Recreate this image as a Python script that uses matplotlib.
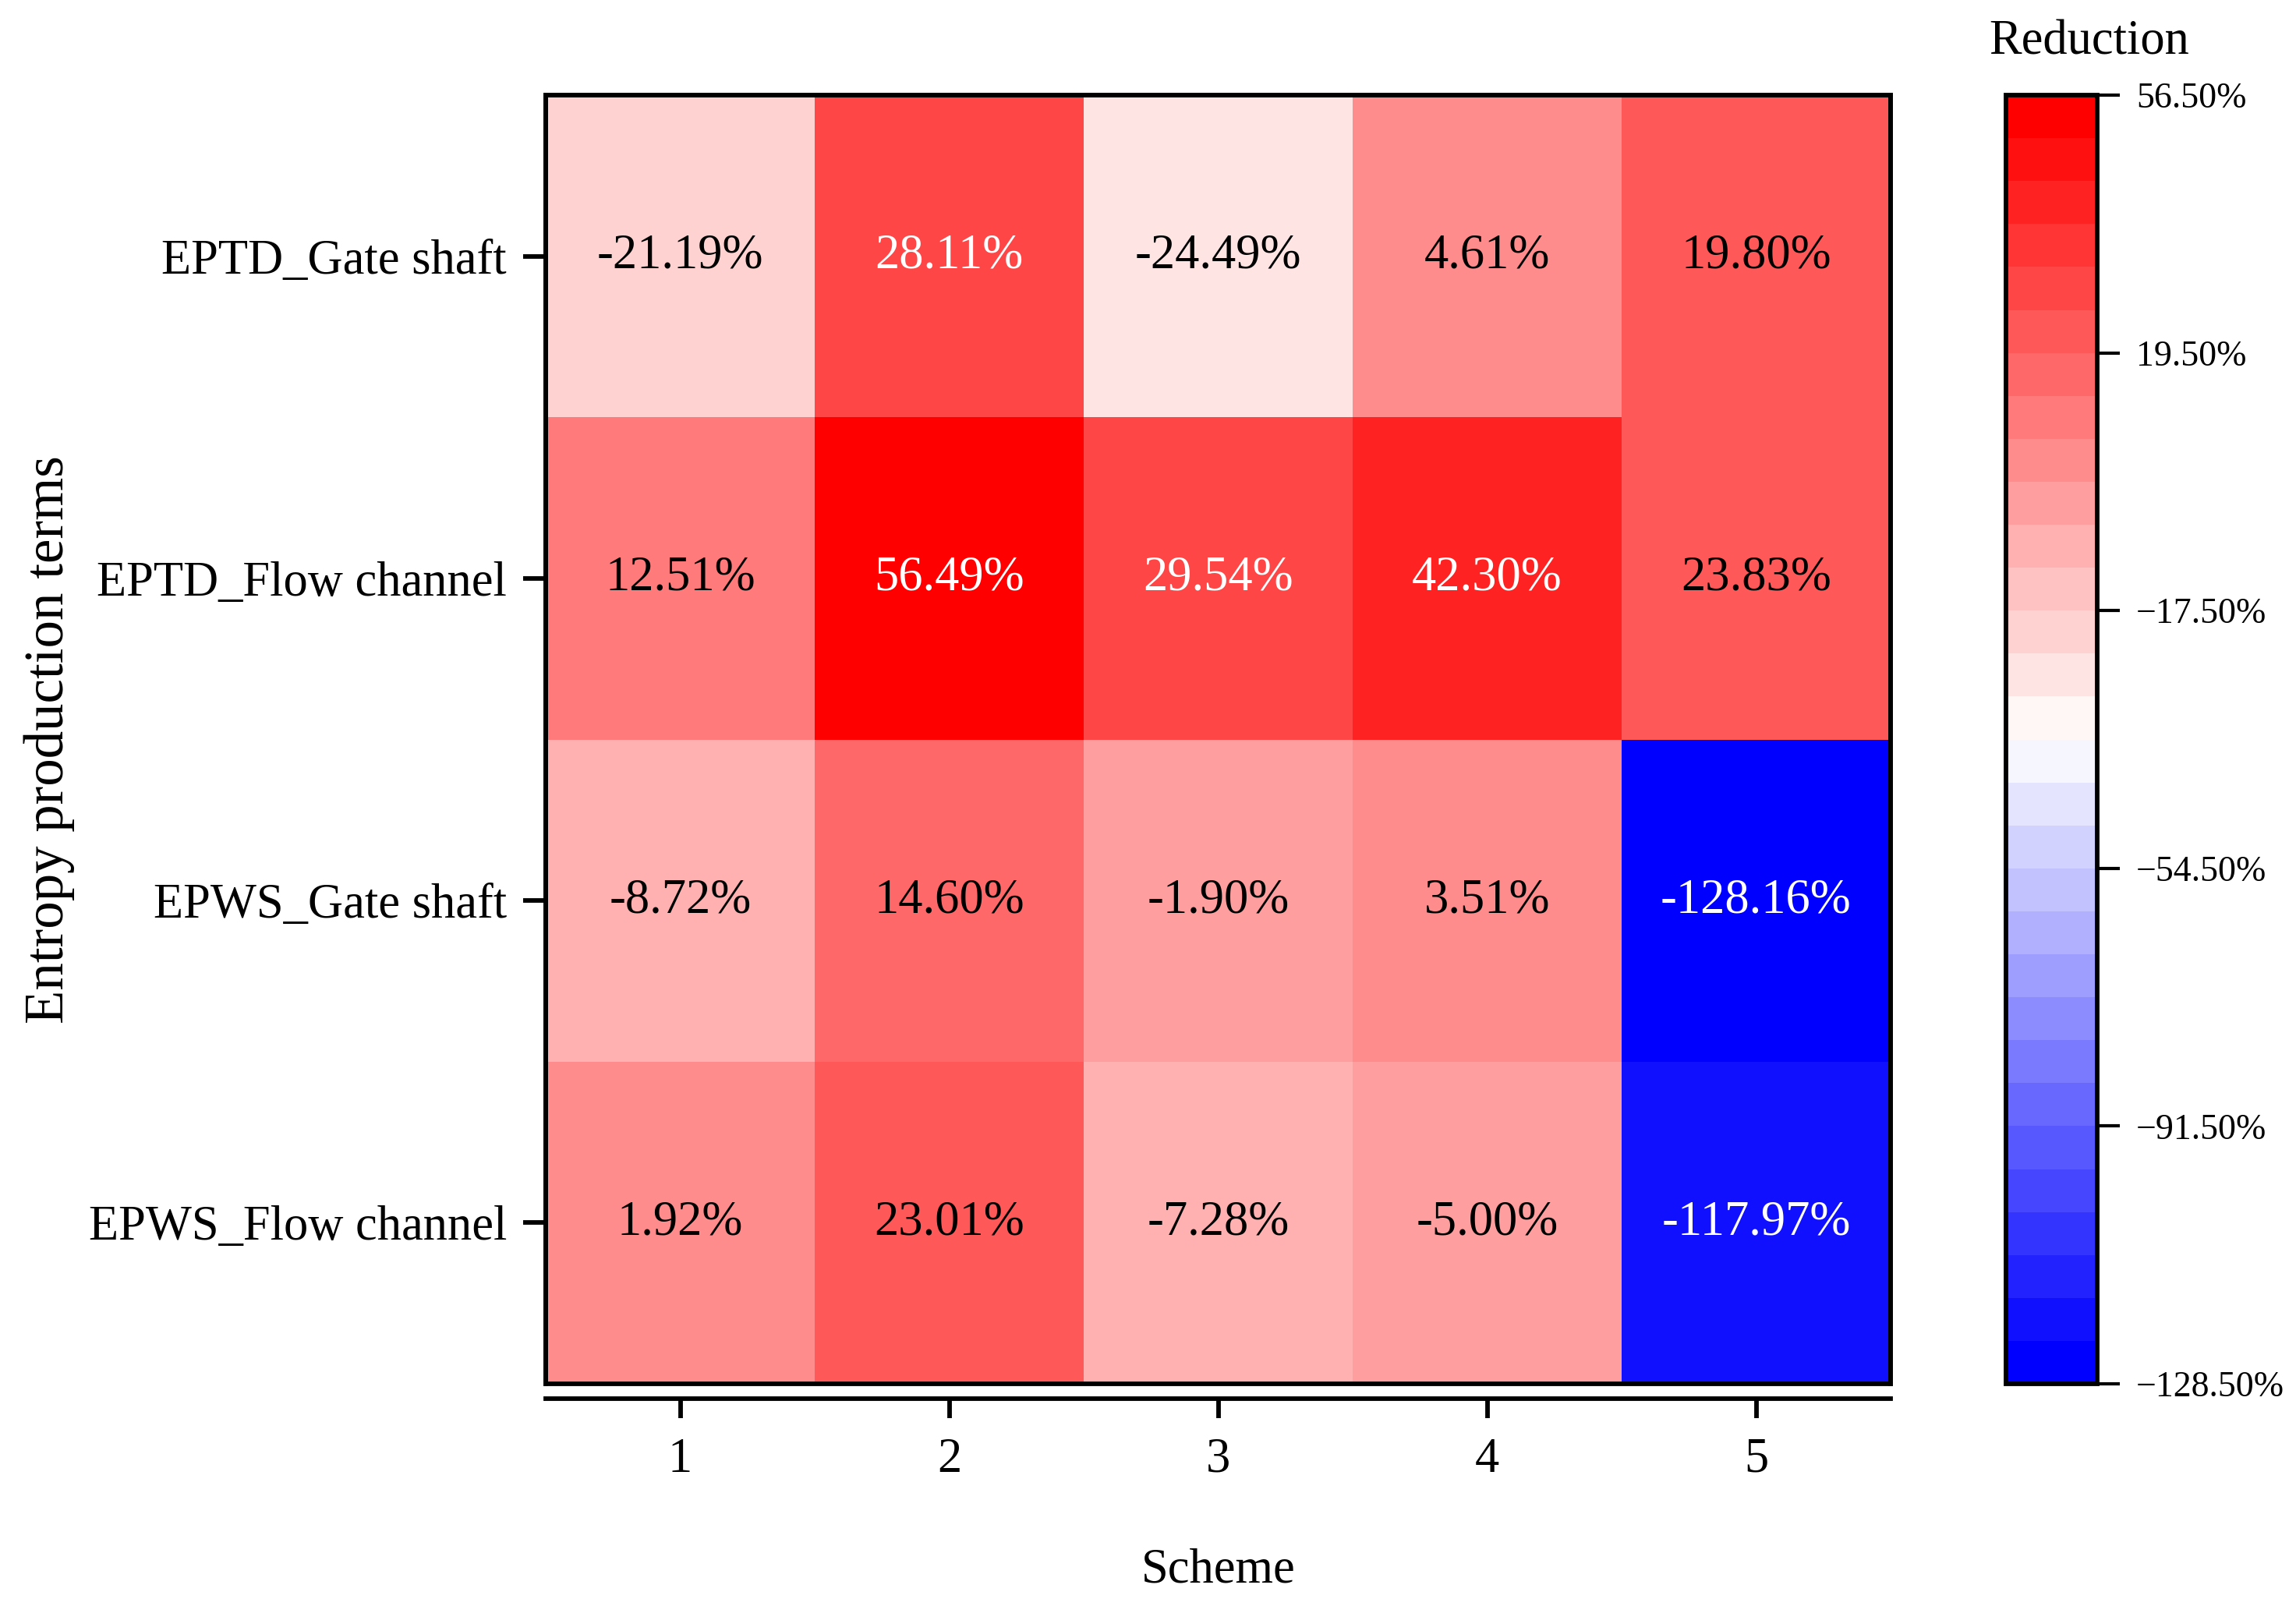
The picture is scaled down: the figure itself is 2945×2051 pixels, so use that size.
import numpy as np
import matplotlib
matplotlib.use("Agg")
import matplotlib.pyplot as plt
from matplotlib.colors import ListedColormap, BoundaryNorm
from matplotlib.patches import Rectangle

plt.rcParams['font.family'] = ['Liberation Serif', 'DejaVu Serif']

rows = ["EPTD_Gate shaft", "EPTD_Flow channel", "EPWS_Gate shaft", "EPWS_Flow channel"]
schemes = ["1", "2", "3", "4", "5"]
eptd_gate = [-21.19, 28.11, -24.49, 4.61, 19.80]
eptd_flow = [12.51, 56.49, 29.54, 42.30, 23.83]
epws_gate = [-8.72, 14.60, -1.90, 3.51, -128.16]
epws_flow = [1.92, 23.01, -7.28, -5.00, -117.97]
cbar_ticks = [56.5, 19.5, -17.5, -54.5, -91.5, -128.5]

data = np.array([eptd_gate, eptd_flow, epws_gate, epws_flow])
vmin, vmax, nlev = -128.5, 56.5, 30

base = plt.get_cmap('bwr')
cmap = ListedColormap([base(i / (nlev - 1)) for i in range(nlev)])
bounds = np.linspace(vmin, vmax, nlev + 1)
norm = BoundaryNorm(bounds, cmap.N)

W, H, dpi = 2945, 2051, 300
fig = plt.figure(figsize=(W / dpi, H / dpi), dpi=dpi)
ax = fig.add_axes([700 / W, 1 - 1775 / H, 1725 / W, 1653 / H])
cax = fig.add_axes([2573 / W, 1 - 1775 / H, 117 / W, 1653 / H])

nr, nc = data.shape
mesh = ax.pcolormesh(np.arange(nc + 1), np.arange(nr + 1), data, cmap=cmap, norm=norm)
ax.set_xlim(0, nc)
ax.set_ylim(nr, 0)

for i in range(nr):
    for j in range(nc):
        v = data[i, j]
        col = 'white' if (v > 25 or v < -100) else 'black'
        ax.text(j + 0.5, i + 0.5, f"{v:.2f}%", ha='center', va='center',
                fontsize=15, color=col)

lw = 1.4
ax.spines['bottom'].set_position(('outward', 4.5))
for s in ['top', 'left', 'right', 'bottom']:
    ax.spines[s].set_linewidth(lw)
ax.add_patch(Rectangle((0, 0), 1, 1, transform=ax.transAxes, fill=False,
                       lw=lw, edgecolor='black', clip_on=False, zorder=5))
ax.set_xticks(np.arange(nc) + 0.5)
ax.set_xticklabels(schemes)
ax.set_yticks(np.arange(nr) + 0.5)
ax.set_yticklabels(rows)
ax.tick_params(axis='x', length=6, width=lw, pad=6, labelsize=15)
ax.tick_params(axis='y', length=7, width=lw, pad=5, labelsize=15)
ax.set_xlabel("Scheme", fontsize=15, labelpad=20)
ax.set_ylabel("Entropy production terms", fontsize=17)
ax.yaxis.set_label_coords(-0.35, 0.5)

cb = fig.colorbar(mesh, cax=cax, ticks=cbar_ticks)
cb.minorticks_off()
cb.outline.set_linewidth(lw)
cb.ax.set_yticklabels([f"{t:.2f}%".replace('-', '\u2212') for t in cbar_ticks], fontsize=11)
cb.ax.tick_params(length=7, width=1.0, pad=5)
fig.text(2680 / W, 1 - 55 / H, "Reduction", ha='center', va='center', fontsize=15)

fig.savefig("out.png", dpi=dpi)
